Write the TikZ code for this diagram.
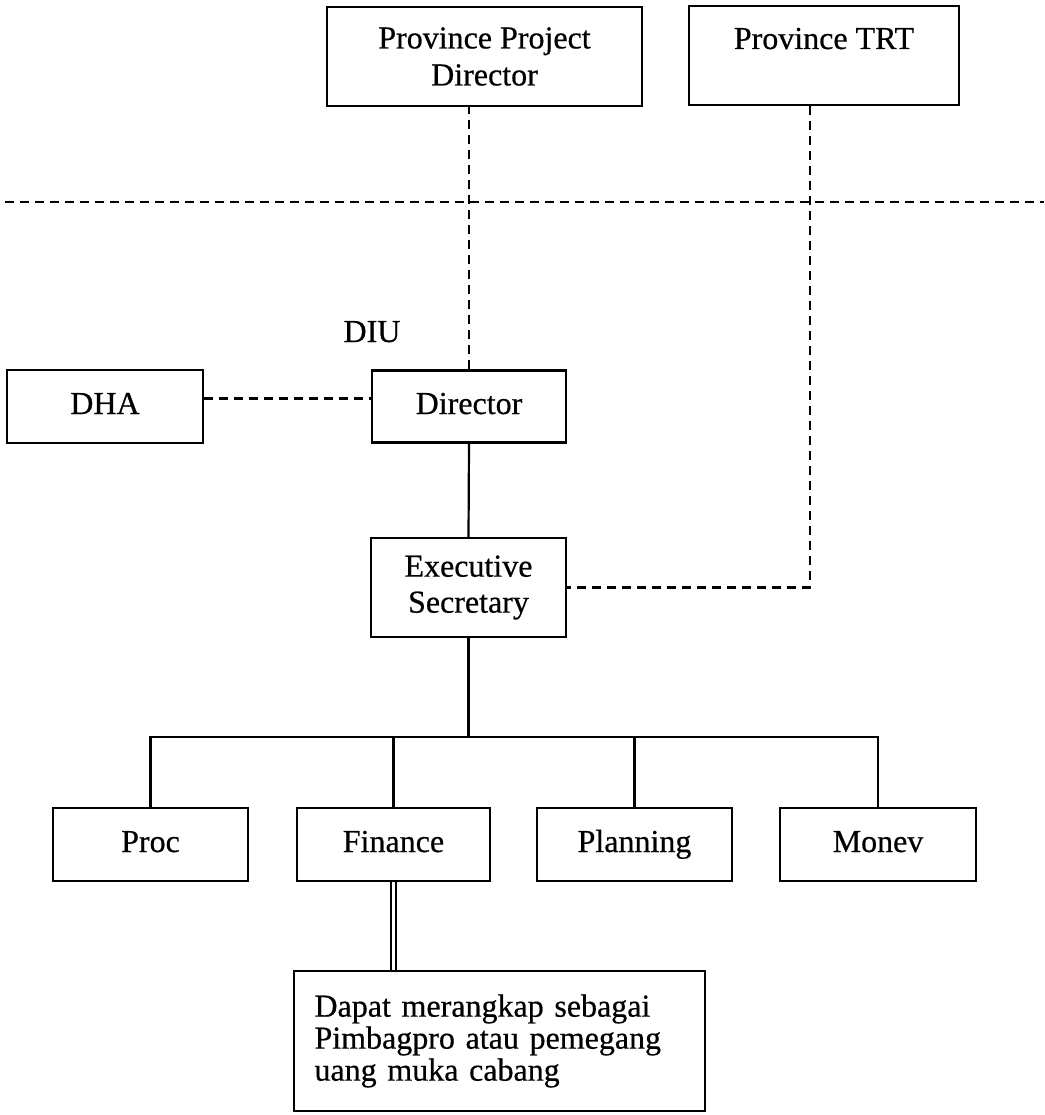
\documentclass[tikz,border=0pt]{standalone}
\usepackage{fontspec}
\setmainfont{Liberation Serif}[FakeBold=0.5]
\begin{document}
\begin{tikzpicture}[x=1pt,y=-1pt,
  txt/.style={font=\fontsize{32}{37}\selectfont},
  box/.style={draw, line width=2.2pt, inner sep=0pt, align=center, txt},
  onebox/.style={box, text height=22pt, text depth=7pt},
  dline/.style={line width=2.3pt, dash pattern=on 9pt off 6pt},
  sline/.style={line width=2.2pt},
]
\useasboundingbox (0,0) rectangle (1044,1115);
\fill[white] (0,0) rectangle (1044,1115);

% top boxes
\node[box, minimum width=315pt, minimum height=99pt] (ppd) at (484.5,56.5) {Province Project\\Director};
\node[box, minimum width=270pt, minimum height=99pt] (trt) at (824,55.5) {};
\node[txt, anchor=base, inner sep=0pt] (trtlabel) at (824,49) {Province TRT};

% divider
\coordinate (divL) at (5,202);
\coordinate (divR) at (1044,202);
\draw[dline] (divL) -- (divR);

% DIU level
\node[txt, anchor=base, inner sep=0pt] (diu) at (372,342) {DIU};
\node[onebox, minimum width=196pt, minimum height=73pt] (dha) at (105,406.5) {DHA};
\node[onebox, minimum width=194pt, minimum height=72pt] (dir) at (469,406.5) {Director};
\node[box, minimum width=195pt, minimum height=99pt, font=\fontsize{32}{36}\selectfont] (es) at (468.5,587.5) {Executive\\Secretary};

% units
\node[onebox, minimum width=195pt, minimum height=73pt] (proc)  at (150.5,844.5) {Proc};
\node[onebox, minimum width=193pt, minimum height=73pt] (fin)   at (393.5,844.5) {Finance};
\node[onebox, minimum width=195pt, minimum height=73pt] (plan)  at (634.5,844.5) {Planning};
\node[onebox, minimum width=196pt, minimum height=73pt] (monev) at (878,844.5) {Monev};

\node[box, minimum width=411pt, minimum height=140pt, text width=370pt, align=left,
      font=\fontsize{32}{32}\selectfont] (note) at (499.5,1041)
  {Dapat merangkap sebagai\\Pimbagpro atau pemegang\\uang muka cabang};

% dashed connectors
\draw[dline] (dir.north) -- (dir.north |- ppd.south);
\draw[dline] ([xshift=-14pt]trt.south) |- (es.east);
\draw[dline] ([yshift=8pt]dha.east) -- ([yshift=8pt]dir.west);

% solid connectors
\draw[sline] (dir.south) -- (es.north);
\coordinate (bus) at (468.5,737);
\draw[sline] (es.south) -- (bus);
\draw[sline] (proc.north) -- (proc.north |- bus) -- (monev.north |- bus) -- (monev.north);
\draw[sline] (fin.north) -- (fin.north |- bus);
\draw[sline] (plan.north) -- (plan.north |- bus);
\draw[line width=1.8pt, double, double distance=3pt] (fin.south) -- (fin.south |- note.north);
\end{tikzpicture}
\end{document}
